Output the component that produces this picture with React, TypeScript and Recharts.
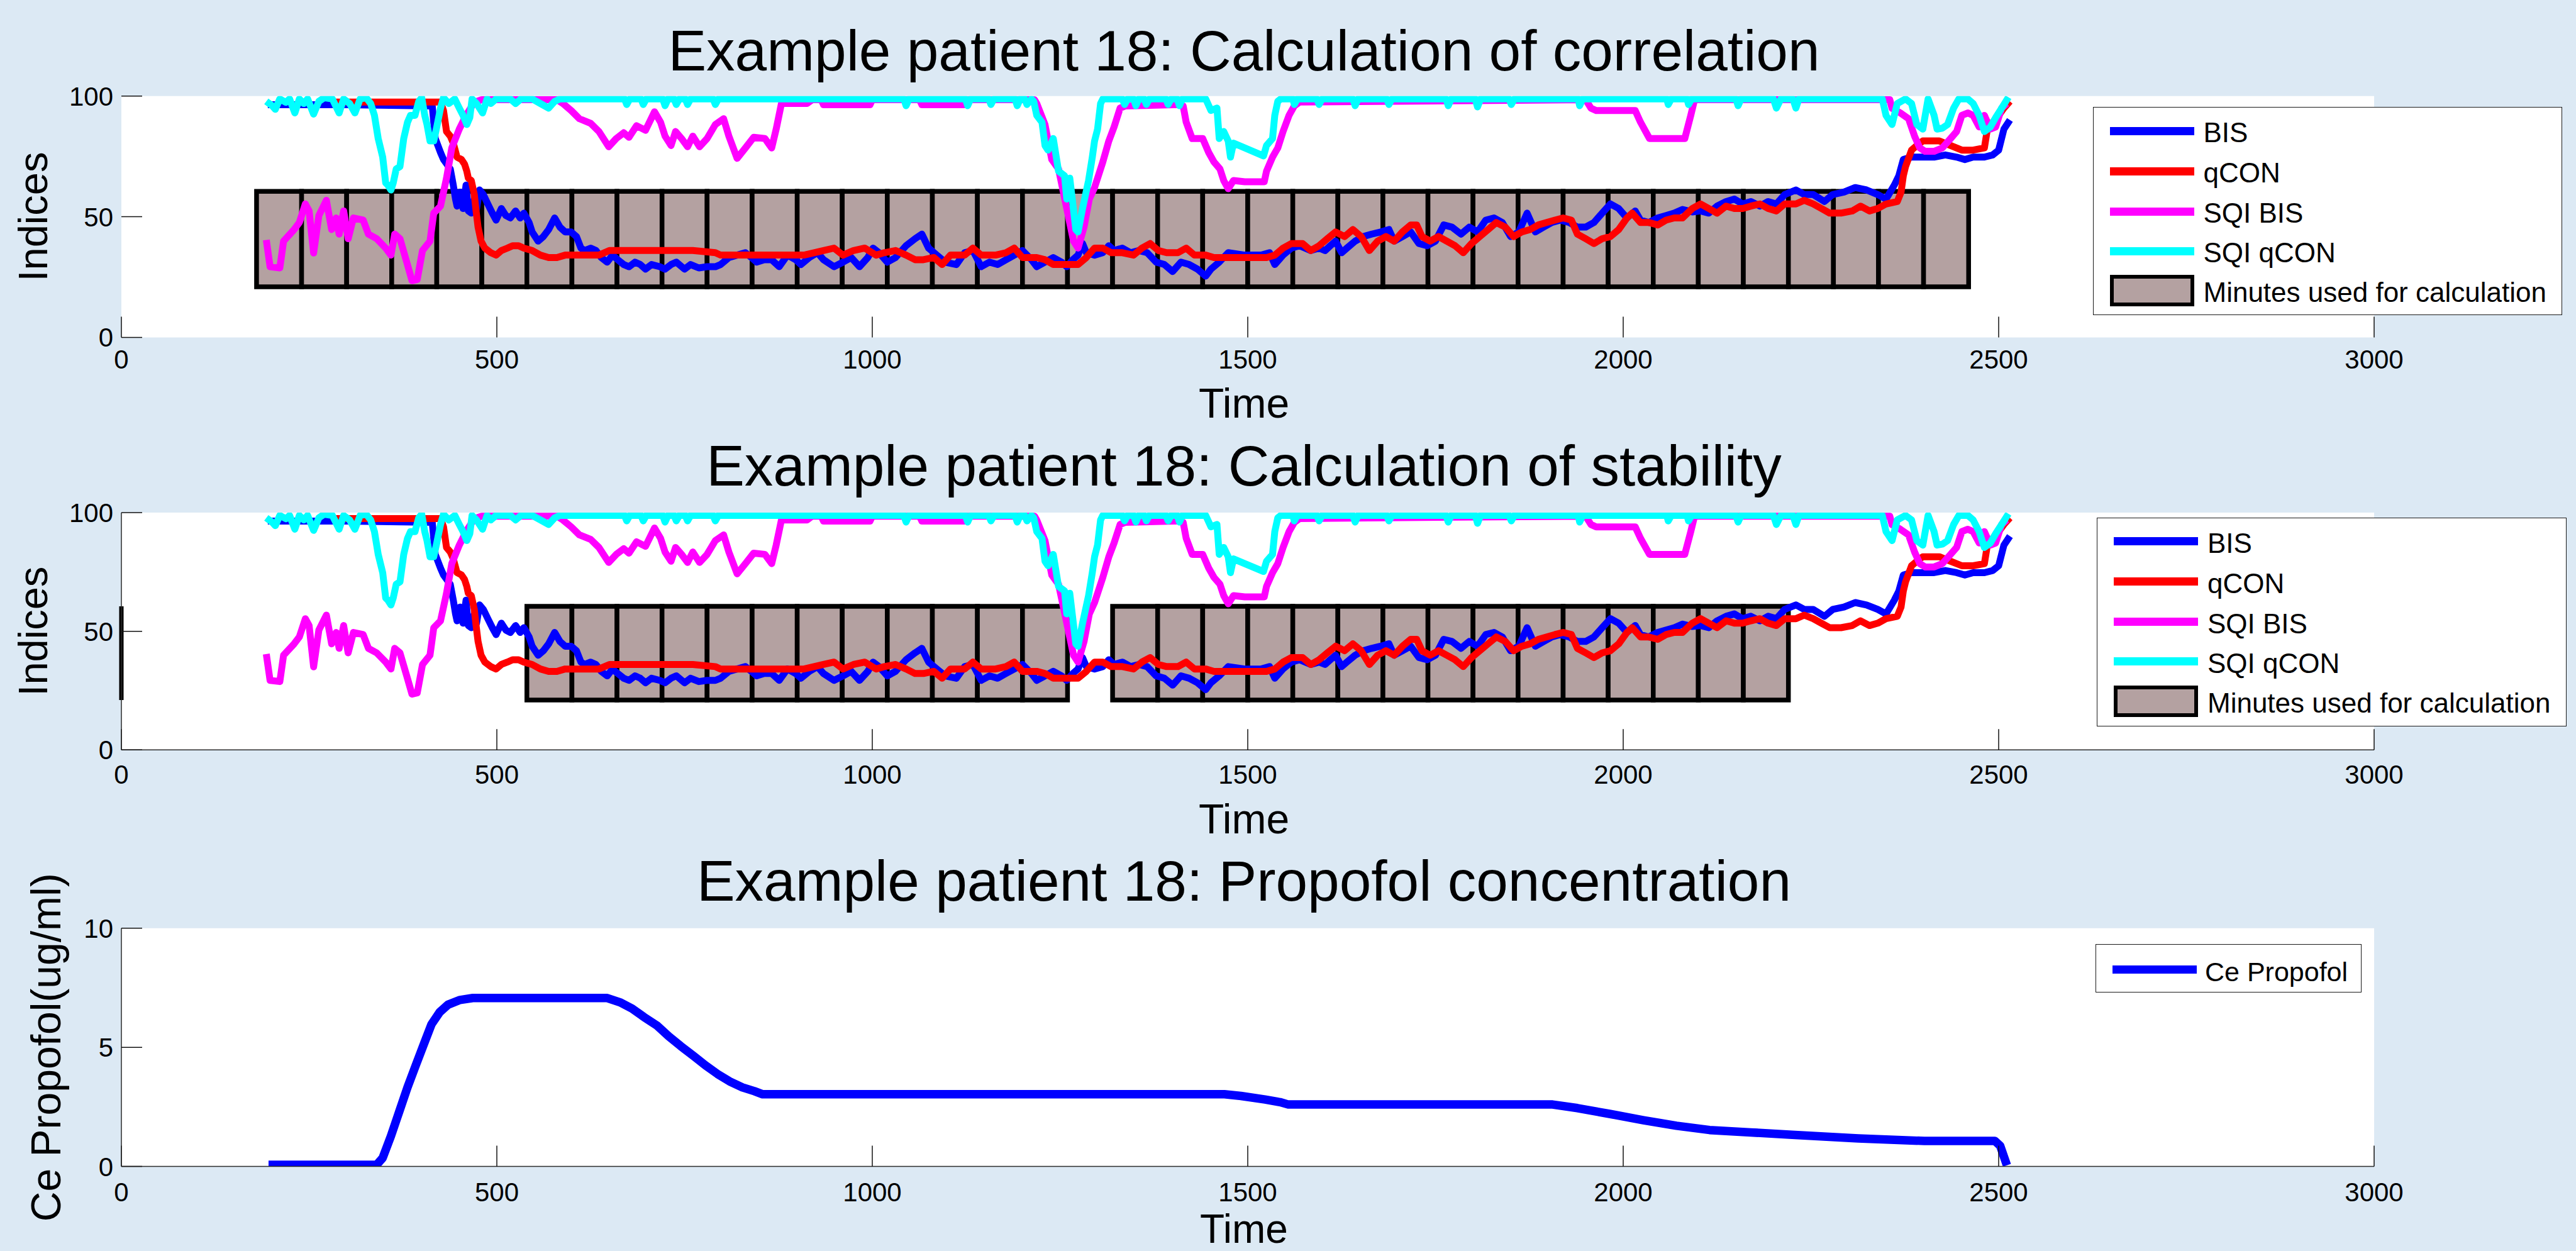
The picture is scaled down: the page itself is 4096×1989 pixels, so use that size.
import React from 'react';
import {
  ComposedChart,
  Line,
  XAxis,
  YAxis,
  CartesianGrid,
  ReferenceArea,
  ReferenceLine,
  Legend,
} from 'recharts';

const FONT = 'Arial, "Liberation Sans", Helvetica, sans-serif';

// ---------- axes ----------
const timeTicks = [0, 500, 1000, 1500, 2000, 2500, 3000];
const indexTicks = [0, 50, 100];
const propofolTicks = [0, 5, 10];

// ---------- titles / labels ----------
const titles = [
  'Example patient 18: Calculation of correlation',
  'Example patient 18: Calculation of stability',
  'Example patient 18: Propofol concentration',
];
const indexAxisLabel = 'Indices';
const propofolAxisLabel = 'Ce Propofol(ug/ml)';
const timeAxisLabel = 'Time';

// ---------- series: [time, value] ----------
const bisPoints: [number, number][] = [
  [195, 96.4], [300, 96.4], [414, 95.9], [418, 82.4], [425, 76.6], [429, 73.7], [438, 69.8], [442, 63.1], [445, 57.3],
  [447, 54.4], [451, 60.2], [455, 53.4], [459, 63.1], [462, 52.4], [466, 51.5], [470, 57.3], [473, 53.4], [477, 61.1],
  [482, 59.2], [488, 55.3], [494, 51.5], [499, 48.6], [506, 53.4], [512, 50.5], [518, 49.5], [525, 52.4], [531, 49.5],
  [536, 51.5], [543, 47.6], [547, 43.7], [555, 39.9], [562, 41.8], [569, 44.7], [577, 49.5], [584, 45.7], [591, 43.7],
  [599, 43.7], [606, 41.8], [612, 37], [617, 36], [625, 37], [632, 36], [639, 33.1], [647, 31.2], [654, 34.1],
  [661, 32.2], [669, 30.2], [676, 29.3], [684, 31.2], [691, 30.2], [698, 28.3], [706, 30.2], [717, 29.3], [724, 28.3],
  [732, 30.2], [739, 31.2], [750, 28.3], [758, 30.2], [769, 28.8], [780, 29.3], [791, 29.3], [798, 30.2], [809, 33.1],
  [820, 34.1], [831, 35.1], [839, 33.1], [846, 31.2], [856, 32.2], [866, 32.2], [876, 29.3], [887, 34.1], [898, 32.2],
  [905, 30.2], [916, 33.1], [927, 35.1], [935, 32.2], [949, 29.3], [961, 31.2], [972, 33.1], [983, 29.3], [994, 33.1],
  [1001, 37], [1009, 35.1], [1020, 31.2], [1031, 33.1], [1045, 38], [1057, 40.9], [1066, 42.8], [1075, 37], [1086, 34.1],
  [1097, 31.2], [1112, 30.2], [1123, 35.1], [1134, 36], [1145, 29.3], [1156, 31.2], [1167, 30.2], [1178, 32.2],
  [1189, 34.1], [1200, 36], [1212, 32.2], [1219, 29.3], [1230, 31.2], [1241, 33.1], [1252, 31.2], [1259, 29.3],
  [1267, 32.2], [1274, 34.1], [1280, 38.9], [1285, 35.1], [1296, 34.1], [1307, 35.1], [1315, 38], [1322, 36], [1333, 37],
  [1344, 35.1], [1355, 36], [1366, 35.1], [1378, 31.2], [1389, 30.2], [1400, 27.3], [1411, 31.2], [1422, 30.2],
  [1433, 28.3], [1444, 25.4], [1451, 28.3], [1462, 31.2], [1474, 35.1], [1496, 34.1], [1518, 34.1], [1529, 35.1],
  [1536, 30.2], [1547, 34.1], [1558, 37], [1569, 38], [1584, 36], [1595, 37], [1603, 36], [1610, 38], [1617, 39.9],
  [1625, 35.1], [1632, 37], [1643, 39.9], [1654, 41.8], [1665, 42.8], [1677, 43.7], [1688, 44.7], [1695, 39.9],
  [1706, 41.8], [1717, 43.7], [1728, 38.9], [1739, 38], [1750, 39.9], [1761, 46.6], [1772, 45.7], [1784, 42.8],
  [1795, 45.7], [1806, 43.7], [1817, 48.6], [1828, 49.5], [1839, 47.6], [1850, 41.8], [1861, 43.7], [1872, 51.5],
  [1883, 43.7], [1894, 45.7], [1905, 47.6], [1916, 48.6], [1928, 47.6], [1939, 45.7], [1950, 45.7], [1961, 47.6],
  [1972, 51.5], [1983, 55.3], [1994, 53.4], [2005, 49.5], [2016, 52.4], [2023, 48.6], [2034, 47.6], [2046, 49.5],
  [2057, 50.5], [2068, 51.5], [2079, 53], [2092, 52], [2103, 52.4], [2114, 51.5], [2125, 54.4], [2137, 56.3],
  [2148, 57.3], [2159, 55.3], [2170, 56.3], [2182, 54.4], [2193, 56.3], [2204, 55.3], [2215, 59.2], [2230, 61.1],
  [2241, 59.2], [2253, 59.2], [2268, 56.3], [2279, 59.2], [2294, 60.2], [2309, 62.1], [2324, 61.1], [2339, 59.2],
  [2350, 57.3], [2361, 63.1], [2367, 66.9], [2373, 73.7], [2384, 74.7], [2414, 74.7], [2429, 75.6], [2444, 74.7],
  [2455, 73.7], [2466, 74.7], [2481, 74.7], [2492, 75.6], [2500, 77.6], [2507, 86.3], [2515, 90.1],
];

const qconPoints: [number, number][] = [
  [285, 97.5], [425, 97.5], [429, 94], [433, 85.3], [438, 83.4], [442, 80.5], [447, 74.7], [453, 73.7], [457, 71.8],
  [460, 68.9], [462, 66], [466, 65], [470, 59.2], [472, 53.4], [475, 45.7], [479, 39.9], [484, 37], [492, 35.1],
  [499, 34.1], [506, 36], [514, 37], [521, 38], [529, 38], [536, 37], [547, 36], [558, 34.1], [569, 33.1], [580, 33.1],
  [591, 34.1], [606, 34.1], [621, 34.1], [636, 34.1], [650, 36], [687, 36], [724, 36], [761, 36], [791, 35.1],
  [798, 34.1], [835, 34.1], [872, 34.1], [909, 34.1], [935, 36], [949, 37], [961, 34.1], [975, 36], [990, 37],
  [1005, 34.1], [1016, 35.1], [1031, 36], [1045, 34.1], [1057, 32.2], [1068, 32.2], [1082, 33.1], [1093, 30.2],
  [1104, 34.1], [1123, 34.1], [1134, 37], [1145, 34.1], [1164, 34.1], [1178, 35.1], [1189, 37], [1200, 33.1],
  [1219, 33.1], [1230, 32.2], [1241, 30.2], [1274, 30.2], [1285, 33.1], [1296, 37], [1307, 37], [1318, 35.1],
  [1333, 35.1], [1348, 34.1], [1359, 37], [1370, 38.9], [1381, 36], [1392, 35.1], [1407, 35.1], [1418, 37], [1429, 34.1],
  [1444, 34.1], [1455, 33.1], [1474, 33.1], [1525, 33.1], [1536, 34.1], [1547, 37], [1558, 38.9], [1573, 38.9],
  [1584, 36], [1595, 38], [1606, 40.9], [1617, 43.7], [1629, 41.8], [1640, 44.7], [1651, 41.8], [1662, 36],
  [1673, 39.9], [1684, 41.8], [1695, 39.9], [1706, 43.7], [1717, 46.6], [1725, 46.6], [1732, 41.8], [1743, 39.9],
  [1754, 41.8], [1765, 39.9], [1776, 38], [1787, 35.1], [1798, 38.9], [1809, 41.8], [1820, 44.7], [1831, 47.6],
  [1843, 45.7], [1854, 41.8], [1865, 43.7], [1876, 44.7], [1887, 46.6], [1898, 47.6], [1909, 48.6], [1920, 49.5],
  [1931, 48.6], [1939, 42.8], [1950, 40.9], [1961, 38.9], [1972, 40.9], [1983, 41.8], [1994, 44.7], [2005, 49.5],
  [2012, 51.5], [2023, 47.6], [2034, 47.6], [2046, 46.6], [2057, 48.6], [2068, 49.5], [2079, 49.5], [2092, 53.4],
  [2103, 55.3], [2114, 53.4], [2125, 51.5], [2137, 54.4], [2148, 53.4], [2159, 53.4], [2170, 54.4], [2182, 55.3],
  [2193, 53.4], [2204, 52.4], [2215, 55.3], [2230, 55.3], [2241, 56.8], [2253, 55.3], [2264, 53.4], [2275, 51.5],
  [2290, 51.5], [2305, 52.4], [2316, 54.4], [2328, 52.4], [2339, 53.4], [2350, 55.3], [2365, 56.3], [2370, 60.2],
  [2373, 66.9], [2376, 70.8], [2384, 77.6], [2391, 79.5], [2399, 81.4], [2421, 81.4], [2436, 79.5], [2451, 77.6],
  [2466, 77.6], [2481, 78.5], [2485, 86.3], [2492, 89.1], [2500, 92], [2507, 95], [2515, 97.8],
];

const sqiBisPoints: [number, number][] = [
  [193, 40.4], [198, 29.3], [211, 28.8], [216, 39.9], [230, 44.7], [237, 47.6], [245, 55.3], [250, 52.4], [256, 35],
  [263, 50.5], [273, 56.8], [280, 44.7], [286, 49.5], [290, 42.8], [296, 52.4], [302, 40.9], [309, 49.5], [322, 48.6],
  [329, 42.8], [340, 40.9], [352, 37], [359, 34.1], [364, 42.8], [371, 40.9], [380, 31.2], [387, 23.5], [394, 24],
  [401, 36], [411, 39.9], [416, 51.5], [425, 54.4], [433, 66], [440, 78.5], [450, 86.3], [459, 92], [470, 97.4],
  [480, 98.5], [580, 98.5], [588, 96.9], [599, 94], [610, 90.6], [625, 88.7], [636, 85.3], [649, 79], [659, 82.4],
  [669, 84.8], [676, 82.9], [686, 87.7], [698, 85.8], [710, 93.5], [718, 89.2], [724, 83.4], [732, 79.5], [738, 85.3],
  [746, 82.4], [754, 79], [761, 83.4], [770, 79], [780, 82.4], [791, 88.2], [802, 90.6], [809, 83.4], [820, 74.2],
  [831, 78.5], [842, 82.9], [857, 82.4], [866, 78.5], [872, 86.3], [879, 96.9], [913, 96.9], [920, 98.5], [932, 98.5],
  [935, 96.4], [997, 96.4], [1000, 98.5], [1063, 98.5], [1066, 96.4], [1123, 96.4], [1127, 98.5], [1216, 98.5],
  [1219, 96.9], [1230, 88.2], [1239, 73.7], [1248, 69.8], [1259, 53.4], [1268, 39.9], [1274, 37], [1282, 45.7],
  [1289, 57.3], [1296, 62.1], [1307, 72.7], [1315, 81.4], [1322, 87.2], [1330, 95], [1337, 95.9], [1410, 96.5],
  [1414, 95.9], [1418, 89.2], [1426, 82.4], [1440, 82.4], [1448, 76.6], [1455, 72.7], [1463, 69.8], [1468, 65],
  [1474, 61.6], [1481, 65], [1496, 64.5], [1522, 64.5], [1525, 68.9], [1533, 74.7], [1540, 78.5], [1547, 85.3],
  [1555, 92], [1562, 95.9], [1569, 97.5], [1950, 98.5], [1957, 95], [1964, 94], [2016, 94], [2023, 89.2], [2035, 82.4],
  [2082, 82.4], [2090, 92], [2095, 98.5], [2355, 98.5], [2358, 94.9], [2369, 93], [2380, 90.6], [2388, 83.4],
  [2395, 78.5], [2402, 77.1], [2414, 77.1], [2425, 78.5], [2436, 82.4], [2444, 85.3], [2451, 92], [2459, 93],
  [2466, 92], [2474, 87.2], [2481, 92], [2489, 86.3], [2496, 87.2], [2504, 95], [2511, 96.9],
];

const sqiQconPoints: [number, number][] = [
  [193, 97.8], [201, 95.9], [205, 94.5], [211, 98.8], [219, 97.4], [224, 98.8], [231, 93], [237, 98.8], [243, 96.9],
  [248, 98.8], [256, 92.5], [263, 97.8], [270, 99.3], [281, 98.8], [290, 93], [296, 98.8], [304, 96.9], [311, 93],
  [318, 98.8], [326, 99.3], [332, 96.9], [337, 92], [342, 82.4], [348, 74.7], [352, 64], [355, 63.1], [359, 61.1],
  [362, 64], [366, 69.8], [371, 70.8], [376, 82.4], [381, 89.1], [385, 92], [391, 92], [396, 97.8], [400, 99.3],
  [404, 92], [407, 88.2], [411, 81.4], [416, 81.4], [420, 87.2], [425, 95], [429, 99.3], [436, 96.9], [444, 98.8],
  [450, 95], [455, 92], [460, 88.2], [464, 91.1], [467, 98.8], [473, 96.9], [481, 93], [487, 98.8], [492, 96.9],
  [499, 98.8], [518, 98.8], [525, 96.9], [532, 98.8], [547, 98.8], [558, 96.9], [569, 95], [577, 97.8], [584, 98.8],
  [670, 98.8], [673, 96.5], [677, 98.8], [692, 98.8], [695, 96.5], [699, 98.8], [721, 98.8], [724, 96], [728, 98.8],
  [736, 98.8], [739, 96.5], [743, 98.8], [751, 98.8], [754, 96.5], [758, 98.8], [788, 98.8], [791, 96.5], [795, 98.8],
  [1042, 98.8], [1045, 96], [1049, 98.8], [1124, 98.8], [1127, 96], [1131, 98.8], [1155, 98.8], [1158, 96.5],
  [1162, 98.8], [1190, 98.8], [1193, 96], [1197, 98.8], [1203, 98.8], [1206, 96.5], [1212, 98.8], [1215, 97.8],
  [1219, 92], [1226, 89.1], [1230, 79.5], [1234, 77.6], [1241, 82.4], [1248, 68.9], [1256, 67], [1259, 57.3],
  [1263, 66], [1271, 44.7], [1274, 43.7], [1280, 53.4], [1288, 65], [1293, 74.7], [1296, 81.4], [1300, 86.3],
  [1304, 96.9], [1307, 98.8], [1333, 98.8], [1336, 96.5], [1340, 98.8], [1348, 98.8], [1351, 96], [1355, 98.8],
  [1362, 98.8], [1365, 96.5], [1369, 98.8], [1391, 98.8], [1394, 96.5], [1398, 98.8], [1406, 98.8], [1409, 96],
  [1413, 98.8], [1444, 98.8], [1451, 94], [1459, 95], [1462, 82.4], [1468, 85.3], [1474, 81.4], [1477, 74.7],
  [1481, 80.5], [1521, 75.2], [1525, 79.5], [1533, 82.4], [1536, 92], [1540, 97.8], [1544, 98.8], [1560, 98.8],
  [1562, 96.5], [1566, 98.8], [1592, 98.8], [1595, 96.5], [1599, 98.8], [1640, 98.8], [1643, 96], [1647, 98.8],
  [1685, 98.8], [1688, 96.5], [1692, 98.8], [1764, 98.8], [1767, 96], [1771, 98.8], [1803, 98.8], [1806, 95.5],
  [1810, 98.8], [1848, 98.8], [1851, 96.5], [1855, 98.8], [1940, 98.8], [1942, 96], [1946, 98.8], [2058, 98.8],
  [2060, 96.5], [2064, 98.8], [2085, 98.8], [2087, 96.5], [2091, 98.8], [2150, 98.8], [2153, 96], [2157, 98.8],
  [2200, 98.8], [2204, 95], [2210, 98.8], [2226, 98.8], [2230, 95], [2234, 98.8], [2345, 98.8], [2350, 92],
  [2358, 88.2], [2365, 96.9], [2376, 98.8], [2384, 96.9], [2391, 88.2], [2399, 86.3], [2406, 98.8], [2414, 92],
  [2418, 86.3], [2425, 86.7], [2432, 88.2], [2440, 95], [2447, 98.8], [2459, 98.8], [2466, 96.9], [2474, 92],
  [2481, 85.3], [2489, 87.2], [2496, 91.1], [2504, 95], [2513, 99.5],
];

const propofolPoints: [number, number][] = [
  [196, 0.07], [340, 0.07], [348, 0.36], [359, 1.28], [370, 2.3], [381, 3.32], [392, 4.24], [403, 5.15], [413, 5.97],
  [424, 6.48], [435, 6.79], [451, 6.99], [468, 7.07], [647, 7.07], [664, 6.89], [680, 6.63], [696, 6.27], [713, 5.92],
  [729, 5.46], [745, 5.05], [762, 4.64], [778, 4.24], [794, 3.88], [810, 3.57], [827, 3.32], [843, 3.16], [854, 3.03],
  [1469, 3.03], [1491, 2.96], [1523, 2.81], [1543, 2.7], [1554, 2.6], [1906, 2.6], [1939, 2.45], [1983, 2.2],
  [2027, 1.94], [2071, 1.71], [2115, 1.53], [2170, 1.43], [2225, 1.33], [2313, 1.18], [2401, 1.07], [2495, 1.07],
  [2502, 0.87], [2511, 0.05],
];

// ---------- "minutes used for calculation" boxes (start of each minute) ----------
const minuteLength = 60;
const boxLow = 21;
const boxHigh = 60.5;
const correlationMinuteStarts = [
  180, 240, 300, 360, 420, 480, 540, 600, 660, 720, 780, 840, 900, 960, 1020, 1080, 1140, 1200, 1260,
  1320, 1380, 1440, 1500, 1560, 1620, 1680, 1740, 1800, 1860, 1920, 1980, 2040, 2100, 2160, 2220, 2280, 2340, 2400,
];
const stabilityMinuteStarts = [
  540, 600, 660, 720, 780, 840, 900, 960, 1020, 1080, 1140, 1200,
  1320, 1380, 1440, 1500, 1560, 1620, 1680, 1740, 1800, 1860, 1920, 1980, 2040, 2100, 2160,
];

const seriesNames = ['BIS', 'qCON', 'SQI BIS', 'SQI qCON'];
const seriesColors = ['#0000ff', '#ff0000', '#ff00ff', '#00ffff'];
const boxLegendName = 'Minutes used for calculation';
const propofolName = 'Ce Propofol';
const BOX_FILL = '#b4a1a1';

const toData = (pts: [number, number][]) => pts.map(([t, v]) => ({ t, v }));
const indexSeries = [bisPoints, qconPoints, sqiBisPoints, sqiQconPoints].map(toData);
const propofolData = toData(propofolPoints);

const PLOT_LEFT = 193;
const PLOT_RIGHT_MARGIN = 4096 - 3775;
const TICK_IN = 33;
const tickStyle = { fontSize: 42, fill: '#000', fontFamily: FONT };

const legendRows = [37, 101, 165, 228, 291];

function IndexLegend() {
  return (
    <div
      style={{
        position: 'relative',
        width: '100%',
        height: '100%',
        boxSizing: 'border-box',
        border: '1.5px solid #1a1a1a',
        background: '#fff',
        fontFamily: FONT,
      }}
    >
      {seriesNames.map((name, i) => (
        <React.Fragment key={name}>
          <div
            style={{
              position: 'absolute',
              left: 26,
              top: legendRows[i] - 6.5,
              width: 134,
              height: 13,
              background: seriesColors[i],
            }}
          />
          <div
            style={{
              position: 'absolute',
              left: 175,
              top: legendRows[i] + 3,
              transform: 'translateY(-50%)',
              fontSize: 44,
              lineHeight: 1,
              whiteSpace: 'nowrap',
              color: '#000',
            }}
          >
            {name}
          </div>
        </React.Fragment>
      ))}
      <div
        style={{
          position: 'absolute',
          left: 26,
          top: legendRows[4] - 25,
          width: 134,
          height: 50,
          boxSizing: 'border-box',
          border: '6px solid #000',
          background: BOX_FILL,
        }}
      />
      <div
        style={{
          position: 'absolute',
          left: 175,
          top: legendRows[4] + 3,
          transform: 'translateY(-50%)',
          fontSize: 44,
          lineHeight: 1,
          whiteSpace: 'nowrap',
          color: '#000',
        }}
      >
        {boxLegendName}
      </div>
    </div>
  );
}

function PropofolLegend() {
  return (
    <div
      style={{
        position: 'relative',
        width: '100%',
        height: '100%',
        boxSizing: 'border-box',
        border: '1.5px solid #1a1a1a',
        background: '#fff',
        fontFamily: FONT,
      }}
    >
      <div style={{ position: 'absolute', left: 26, top: 40 - 6.5, width: 134, height: 13, background: '#0000ff' }} />
      <div
        style={{
          position: 'absolute',
          left: 173,
          top: 43,
          transform: 'translateY(-50%)',
          fontSize: 43,
          lineHeight: 1,
          whiteSpace: 'nowrap',
          color: '#000',
        }}
      >
        {propofolName}
      </div>
    </div>
  );
}

type IndexPanelProps = {
  top: number;
  height: number;
  plotTop: number;
  plotHeight: number;
  tickMarginX: number;
  boxes: number[];
  showAxisLines: boolean;
  legendPos: { left: number; top: number; width: number; height: number };
  strayMarker?: boolean;
};

function IndexPanel(p: IndexPanelProps) {
  const xAxisHeight = p.height - p.plotTop - p.plotHeight;
  const axisLine = p.showAxisLines ? { stroke: '#2a2a2a', strokeWidth: 1.5 } : false;
  return (
    <div style={{ position: 'absolute', left: 0, top: p.top, width: 4096, height: p.height }}>
      <ComposedChart
        width={4096}
        height={p.height}
        margin={{ top: p.plotTop, right: PLOT_RIGHT_MARGIN, bottom: 0, left: 0 }}
      >
        <CartesianGrid fill="#ffffff" horizontal={false} vertical={false} stroke="none" />
        <XAxis
          type="number"
          dataKey="t"
          domain={[0, 3000]}
          ticks={timeTicks}
          interval={0}
          allowDataOverflow
          height={xAxisHeight}
          axisLine={axisLine as any}
          tickLine={{ stroke: '#111', strokeWidth: 1.5 }}
          tickSize={-TICK_IN}
          tickMargin={TICK_IN + p.tickMarginX}
          tick={tickStyle}
        />
        <YAxis
          type="number"
          domain={[0, 100]}
          ticks={indexTicks}
          interval={0}
          allowDataOverflow
          width={PLOT_LEFT}
          axisLine={axisLine as any}
          tickLine={{ stroke: '#111', strokeWidth: 1.5 }}
          tickSize={-TICK_IN}
          tickMargin={TICK_IN + 13}
          tick={tickStyle}
        />
        {p.boxes.map((s) => (
          <ReferenceArea
            key={s}
            x1={s}
            x2={s + minuteLength}
            y1={boxLow}
            y2={boxHigh}
            fill={BOX_FILL}
            fillOpacity={1}
            stroke="#000"
            strokeWidth={7.5}
            ifOverflow="visible"
          />
        ))}
        {p.strayMarker && (
          <ReferenceLine
            segment={[
              { x: 0, y: boxLow },
              { x: 0, y: boxHigh },
            ]}
            stroke="#000"
            strokeWidth={7}
            ifOverflow="visible"
          />
        )}
        {indexSeries.map((d, i) => (
          <Line
            key={seriesNames[i]}
            data={d}
            dataKey="v"
            name={seriesNames[i]}
            type="linear"
            stroke={seriesColors[i]}
            strokeWidth={11}
            strokeLinejoin="round"
            dot={false}
            activeDot={false}
            isAnimationActive={false}
          />
        ))}
        <Legend
          layout="vertical"
          align="center"
          verticalAlign="middle"
          wrapperStyle={{ ...p.legendPos, position: 'absolute' }}
          content={() => <IndexLegend />}
        />
      </ComposedChart>
    </div>
  );
}

function PropofolPanel() {
  const top = 1340;
  const height = 649;
  const plotTop = 135.8;
  const plotHeight = 378.8;
  const xAxisHeight = height - plotTop - plotHeight;
  const box = { stroke: '#2a2a2a', strokeWidth: 1.5 };
  return (
    <div style={{ position: 'absolute', left: 0, top, width: 4096, height }}>
      <ComposedChart
        width={4096}
        height={height}
        margin={{ top: plotTop, right: PLOT_RIGHT_MARGIN, bottom: 0, left: 0 }}
      >
        <CartesianGrid fill="#ffffff" horizontal={false} vertical={false} stroke="none" />
        <XAxis
          type="number"
          dataKey="t"
          domain={[0, 3000]}
          ticks={timeTicks}
          interval={0}
          allowDataOverflow
          height={xAxisHeight}
          axisLine={box}
          tickLine={{ stroke: '#111', strokeWidth: 1.5 }}
          tickSize={-TICK_IN}
          tickMargin={TICK_IN + 25.7}
          tick={tickStyle}
        />
        <XAxis
          xAxisId="top"
          orientation="top"
          type="number"
          domain={[0, 3000]}
          ticks={timeTicks}
          interval={0}
          height={0}
          axisLine={box}
          tickLine={{ stroke: '#111', strokeWidth: 1.5 }}
          tickSize={-TICK_IN}
          tick={false}
        />
        <YAxis
          type="number"
          domain={[0, 10]}
          ticks={propofolTicks}
          interval={0}
          allowDataOverflow
          width={PLOT_LEFT}
          axisLine={box}
          tickLine={{ stroke: '#111', strokeWidth: 1.5 }}
          tickSize={-TICK_IN}
          tickMargin={TICK_IN + 13}
          tick={tickStyle}
        />
        <YAxis
          yAxisId="right"
          orientation="right"
          type="number"
          domain={[0, 10]}
          ticks={propofolTicks}
          interval={0}
          width={0}
          axisLine={box}
          tickLine={{ stroke: '#111', strokeWidth: 1.5 }}
          tickSize={-TICK_IN}
          tick={false}
        />
        <Line
          data={propofolData}
          dataKey="v"
          name={propofolName}
          type="linear"
          stroke="#0000ff"
          strokeWidth={13.5}
          strokeLinejoin="round"
          dot={false}
          activeDot={false}
          isAnimationActive={false}
        />
        <Legend
          layout="vertical"
          align="center"
          verticalAlign="middle"
          wrapperStyle={{ left: 3332, top: 160.5, width: 423, height: 77, position: 'absolute' }}
          content={() => <PropofolLegend />}
        />
      </ComposedChart>
    </div>
  );
}

function TextOverlay() {
  const cx = 1978;
  return (
    <svg
      width={4096}
      height={1989}
      style={{ position: 'absolute', left: 0, top: 0, pointerEvents: 'none' }}
      fontFamily={FONT}
    >
      <text x={cx} y={112} textAnchor="middle" fontSize={91} fill="#000">{titles[0]}</text>
      <text x={cx} y={772} textAnchor="middle" fontSize={91} fill="#000">{titles[1]}</text>
      <text x={cx} y={1432} textAnchor="middle" fontSize={91} fill="#000">{titles[2]}</text>
      <text x={75} y={344.6} transform="rotate(-90 75 344.6)" textAnchor="middle" fontSize={65} fill="#000">
        {indexAxisLabel}
      </text>
      <text x={75} y={1003.7} transform="rotate(-90 75 1003.7)" textAnchor="middle" fontSize={65} fill="#000">
        {indexAxisLabel}
      </text>
      <text x={96} y={1665.2} transform="rotate(-90 96 1665.2)" textAnchor="middle" fontSize={66} fill="#000">
        {propofolAxisLabel}
      </text>
      <text x={cx} y={663.8} textAnchor="middle" fontSize={66} fill="#000">{timeAxisLabel}</text>
      <text x={cx} y={1325.3} textAnchor="middle" fontSize={66} fill="#000">{timeAxisLabel}</text>
      <text x={cx} y={1976} textAnchor="middle" fontSize={64} fill="#000">{timeAxisLabel}</text>
    </svg>
  );
}

export default function App() {
  return (
    <div
      style={{
        position: 'absolute',
        left: 0,
        top: 0,
        width: 4096,
        height: 1989,
        background: '#dce9f4',
        overflow: 'hidden',
        fontFamily: FONT,
      }}
    >
      <IndexPanel
        top={0}
        height={680}
        plotTop={152.7}
        plotHeight={383.8}
        tickMarginX={19.2}
        boxes={correlationMinuteStarts}
        showAxisLines={false}
        legendPos={{ left: 3327.5, top: 170, width: 746, height: 331 }}
      />
      <IndexPanel
        top={680}
        height={660}
        plotTop={135}
        plotHeight={377.3}
        tickMarginX={23.5}
        boxes={stabilityMinuteStarts}
        showAxisLines={true}
        legendPos={{ left: 3334, top: 142.7, width: 747, height: 332 }}
        strayMarker
      />
      <PropofolPanel />
      <TextOverlay />
    </div>
  );
}
